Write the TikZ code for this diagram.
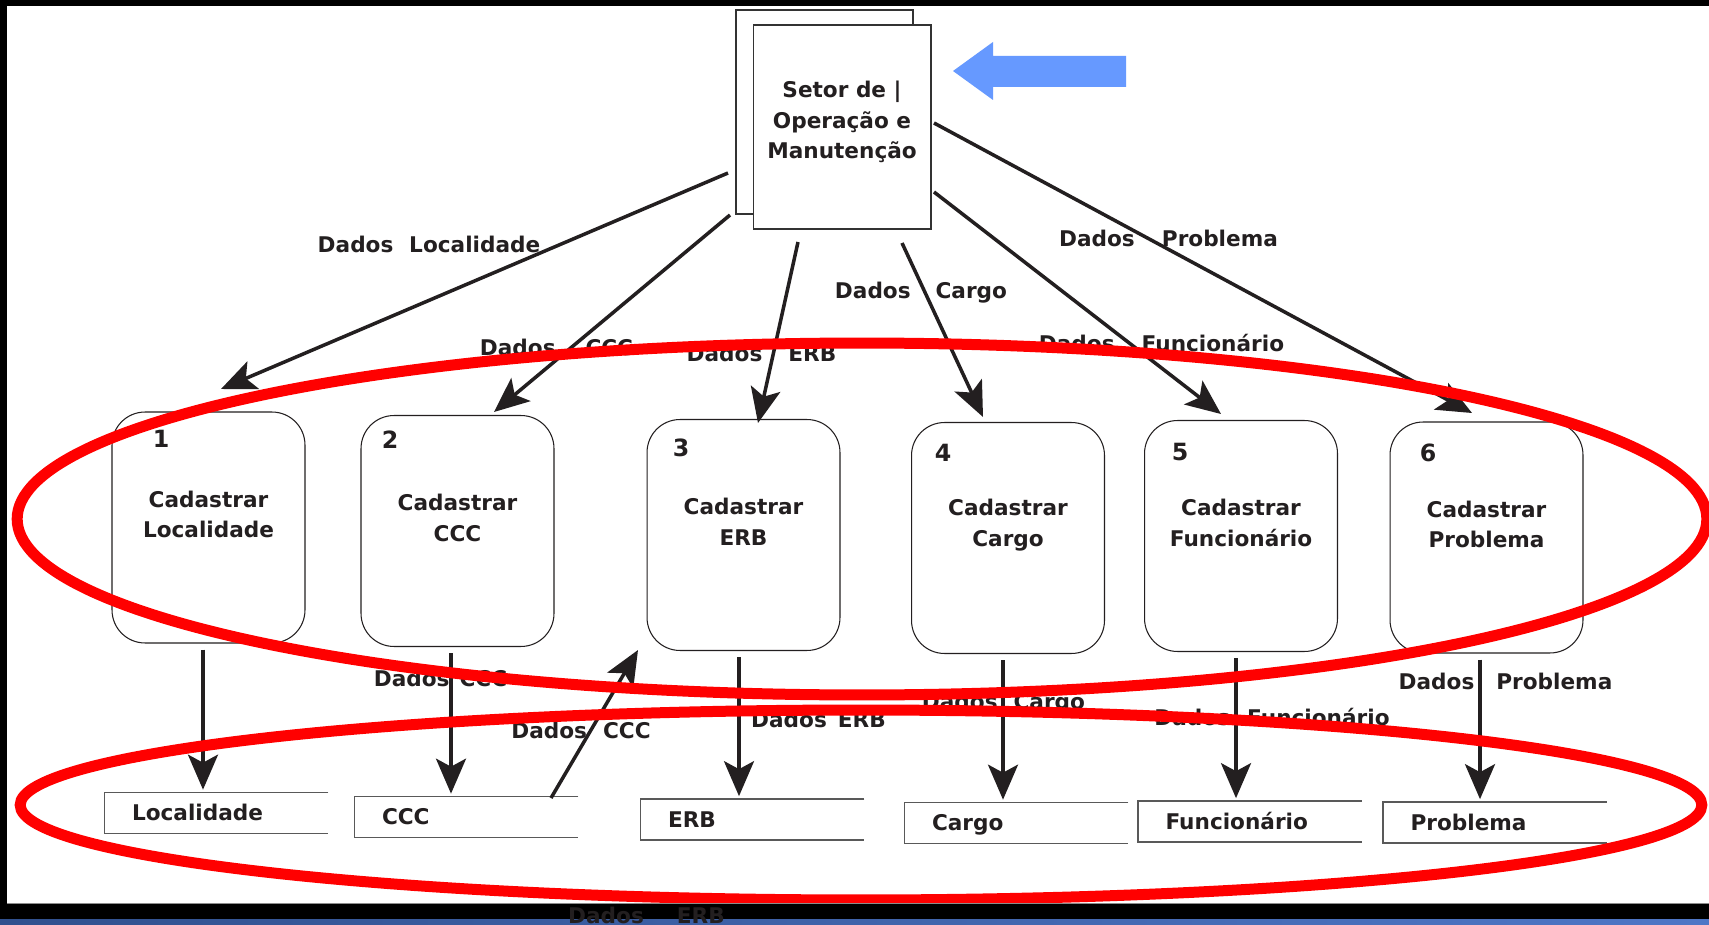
\documentclass[tikz,border=0pt]{standalone}
\usepackage{fontspec}
\setmainfont{DejaVu Sans}
\usetikzlibrary{arrows.meta}
\definecolor{ink}{RGB}{35,31,32}
\definecolor{ringred}{RGB}{255,0,0}
\definecolor{blockblue}{RGB}{102,153,255}
\definecolor{bandblue}{RGB}{48,80,142}
\definecolor{bandblue2}{RGB}{78,118,198}
\tikzset{dfdpic/.style={x=0.02cm,y=-0.02cm,font=\bfseries\fontsize{12.3}{17.5}\selectfont,text=ink}}
\tikzset{flow/.style={ink,line width=2pt,-{Stealth[length=0.7cm,width=0.6cm,inset=0.16cm]}},
         proc/.style={draw=ink,line width=0.6pt,rounded corners=0.66cm,minimum width=3.86cm,minimum height=4.62cm,inner sep=0pt},
         ptext/.style={align=center,inner sep=0pt},
         num/.style={font=\bfseries\fontsize{13.5}{16}\selectfont,inner sep=0pt,text height=9.8pt,text depth=0pt},
         lbl/.style={inner sep=0pt,text height=9pt,text depth=0pt},
         store/.style={minimum width=4.46cm,minimum height=0.8cm,text width=3.38cm,inner xsep=0.54cm,inner ysep=0pt,
                       align=left,text height=9pt,text depth=0pt},
         storeline/.style={draw=black!65,line width=0.8pt},
         sheet/.style={draw=black!80,line width=0.6pt,fill=white},
         ring/.style={draw=ringred,line width=0.22cm}}

\begin{document}
\begin{tikzpicture}[dfdpic]
    \clip (0,0) rectangle (1709,925);
    \fill[white] (0,0) rectangle (1709,925);
    % setor de operacao e manutencao
    \draw[sheet] (736,10) rectangle (913,214);
    \node[sheet,minimum width=3.56cm,minimum height=4.08cm,inner sep=0pt] (setor) at (842,127) {};
    \node[ptext] (setorlbl) at (842,122) {Setor de |\\Operação e\\Manutenção};
    \fill[blockblue] (953,71) -- (993,42) -- (993,56) -- (1126,56) -- (1126,87) -- (993,87) -- (993,100) -- cycle;
    % processos
    \foreach \i/\x/\y/\nx/\ny/\name in {1/208.5/527.5/161/439/Localidade, 2/457.5/531/390/440/CCC,
        3/743.5/535/681/448/ERB, 4/1008/538/943/453/Cargo,
        5/1241/536/1180/452/Funcionário, 6/1486.5/537.5/1428/453/Problema}{
      \node[proc] (p\i) at (\x,\y) {};
      \node[ptext] (c\i) at (\x,\y-13) {Cadastrar\\\name};
      \node[num] (n\i) at (\nx,\ny) {\i};
    }
    % depositos
    \foreach \i/\x/\y/\name in {1/216.5/813/Localidade, 2/466.5/817/CCC, 3/752.5/819.5/ERB,
        4/1016.5/823/Cargo, 5/1250/821.5/Funcionário, 6/1495/822.5/Problema}
      \node[store] (d\i) at (\x,\y) {\name};
    \foreach \i in {1,...,6}
      \draw[storeline] (d\i.north east) -- (d\i.north west) -- (d\i.south west) -- (d\i.south east);
    % fluxos
    \foreach \i/\sx/\sy/\tx/\ty in {1/728/173/221/389, 2/730/215/494/412, 3/798/242/758/423,
        4/902/243/983/417, 5/934/192/1221/414, 6/934/123/1472/413}{
      \coordinate (s\i) at (\sx,\sy);
      \coordinate (t\i) at (\tx,\ty);
      \draw[flow] (s\i) -- (t\i);
    }
    \foreach \i/\x in {1/203,2/451,3/739,4/1003,5/1236,6/1480}
      \draw[flow,shorten <=0.12cm,shorten >=0.06cm] (\x,0 |- p\i.south) -- (\x,0 |- d\i.north);
    \coordinate (u0) at (551,798);
    \coordinate (u1) at (638,650);
    \draw[flow] (u0) -- (u1);
    \node[lbl] (ls1) at (429,245) {Dados\hspace{9pt}Localidade};
    \node[lbl] (ls2) at (556.5,348) {Dados\hspace{17pt}CCC};
    \node[lbl] (ls3) at (761.5,354) {Dados\hspace{14.8pt}ERB};
    \node[lbl] (ls4) at (921,291) {Dados\hspace{14.2pt}Cargo};
    \node[lbl] (ls5) at (1161.5,344) {Dados\hspace{15.4pt}Funcionário};
    \node[lbl] (ls6) at (1168.5,239) {Dados\hspace{15.4pt}Problema};
    \node[lbl] (ld2) at (440.5,679) {Dados\hspace{5.7pt}CCC};
    \node[lbl] (lu2) at (581,731) {Dados\hspace{9.1pt}CCC};
    \node[lbl] (ld3) at (818.5,720) {Dados\hspace{6.3pt}ERB};
    \node[lbl] (ld4) at (1003.5,702) {Dados\hspace{9.1pt}Cargo};
    \node[lbl] (ld5) at (1272,718) {Dados\hspace{9.7pt}Funcionário};
    \node[lbl] (ld6) at (1505.5,682) {Dados\hspace{12.5pt}Problema};
    % destaques
    \draw[ring] (862,519) ellipse [x radius=16.9cm, y radius=3.52cm];
    \draw[ring] (861,805) ellipse [x radius=16.82cm, y radius=1.9cm];
    % moldura do slide
    \fill[black] (0,0) rectangle (1709,6);
    \fill[black] (0,0) rectangle (7,925);
    \fill[black] (0,904) rectangle (1709,925);
    \draw[black!45,line width=0.5pt] (7,903.5) -- (1709,903.5);
    \shade[left color=bandblue,right color=bandblue2] (0,919) rectangle (1709,925);
    \node[lbl] (lb3) at (646.5,916) {Dados\hspace{18.8pt}ERB};
\end{tikzpicture}
\end{document}
